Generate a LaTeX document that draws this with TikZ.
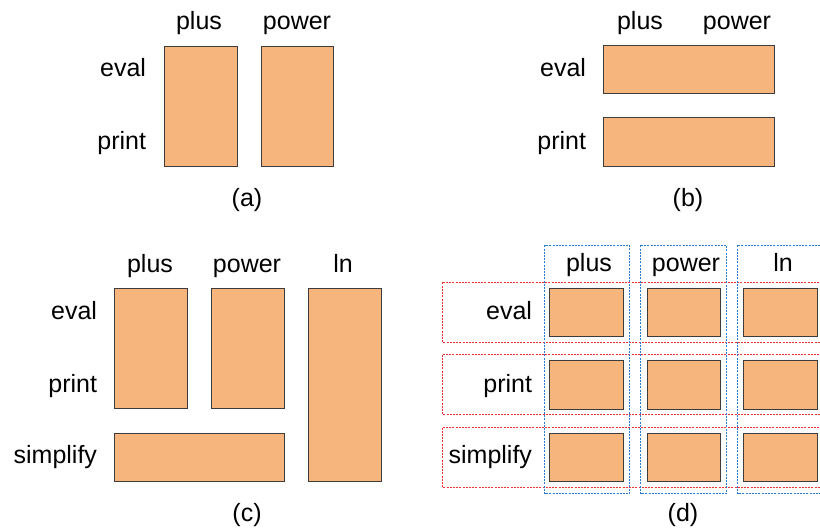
\documentclass[tikz,border=0pt]{standalone}
\usepackage{fontspec}
\setmainfont{Liberation Sans}
\definecolor{boxfill}{RGB}{247,181,126}
\definecolor{boxline}{RGB}{60,60,60}
\definecolor{rowred}{RGB}{240,50,50}
\definecolor{colblue}{RGB}{40,125,210}
\begin{document}
\begin{tikzpicture}[x=1bp,y=-1bp,
  every node/.style={font=\fontsize{25bp}{30bp}\selectfont, inner sep=0pt, outer sep=0pt},
  cell/.style={draw=boxline, line width=1bp, fill=boxfill},
  lbl/.style={anchor=base},
  rowlbl/.style={anchor=base east},
  captionlbl/.style={anchor=center},
  rowbox/.style={draw=rowred, dash pattern=on 2bp off 1.2bp, line width=1.2bp},
  colbox/.style={draw=colblue, dash pattern=on 2bp off 1.2bp, line width=1.2bp}]
\useasboundingbox (0,0) rectangle (820,532);
\clip (0,0) rectangle (820,532);
\fill[white] (0,0) rectangle (820,532);
% ---------- (a)
\draw[cell] (164.5,46.5) rectangle (237.5,166.5);
\draw[cell] (261.5,46.5) rectangle (333.5,166.5);
\node[lbl] (a-plus) at (199,30) {plus};
\node[lbl] (a-power) at (297,30) {power};
\node[rowlbl] (a-eval) at (146,77) {eval};
\node[rowlbl] (a-print) at (146,150) {print};
\node[captionlbl] (a-cap) at (247,200) {(a)};
% ---------- (b)
\draw[cell] (603.5,45.5) rectangle (774.5,93.5);
\draw[cell] (603.5,117.5) rectangle (774.5,166.5);
\node[lbl] (b-plus) at (640,30) {plus};
\node[lbl] (b-power) at (737,30) {power};
\node[rowlbl] (b-eval) at (586,77) {eval};
\node[rowlbl] (b-print) at (586,150) {print};
\node[captionlbl] (b-cap) at (688,200) {(b)};
% ---------- (c)
\draw[cell] (114.5,288.5) rectangle (187.5,408.5);
\draw[cell] (211.5,288.5) rectangle (284.5,408.5);
\draw[cell] (308.5,288.5) rectangle (381.5,481.5);
\draw[cell] (114.5,433.5) rectangle (284.5,481.5);
\node[lbl] (c-plus) at (150,273) {plus};
\node[lbl] (c-power) at (247,273) {power};
\node[lbl] (c-ln) at (343,273) {ln};
\node[rowlbl] (c-eval) at (97,320) {eval};
\node[rowlbl] (c-print) at (97,392) {print};
\node[rowlbl] (c-simp) at (97,463) {simplify};
\node[captionlbl] (c-cap) at (247,515) {(c)};
% ---------- (d)
\draw[rowbox] (442.5,282.5) rectangle (830,342.5);
\draw[rowbox] (442.5,354.5) rectangle (830,414.5);
\draw[rowbox] (442.5,427.5) rectangle (830,487.5);
\draw[colbox] (544.5,245.5) rectangle (629.5,493.5);
\draw[colbox] (640.5,245.5) rectangle (726.5,493.5);
\draw[colbox] (737.5,245.5) rectangle (830,493.5);
\foreach \x/\w in {549.5/623.5,647.5/720.5,743.5/817.5}{
  \draw[cell] (\x,288.5) rectangle (\w,336.5);
  \draw[cell] (\x,360.5) rectangle (\w,409.5);
  \draw[cell] (\x,433.5) rectangle (\w,481.5);
}
\node[lbl] (d-plus) at (589,272) {plus};
\node[lbl] (d-power) at (686,272) {power};
\node[lbl] (d-ln) at (783,272) {ln};
\node[rowlbl] (d-eval) at (532,320) {eval};
\node[rowlbl] (d-print) at (532,392) {print};
\node[rowlbl] (d-simp) at (532,463) {simplify};
\node[captionlbl] (d-cap) at (683,515) {(d)};
\end{tikzpicture}
\end{document}
